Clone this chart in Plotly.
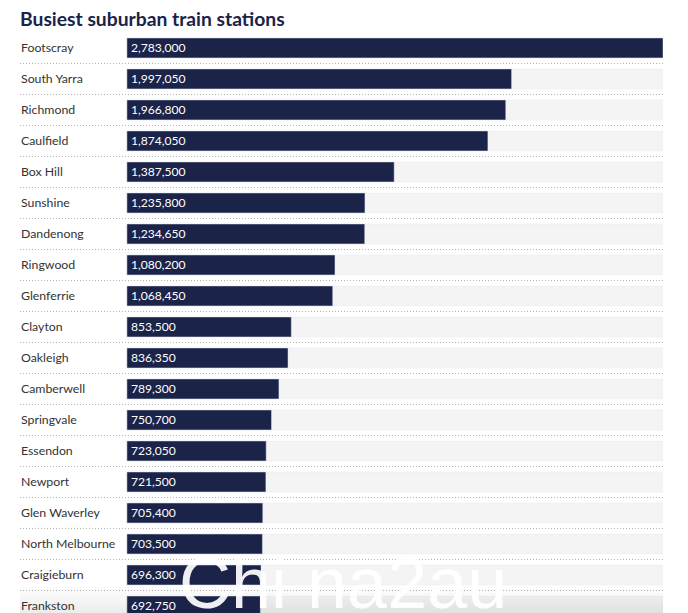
import plotly.graph_objects as go

stations = ["Footscray", "South Yarra", "Richmond", "Caulfield", "Box Hill", "Sunshine",
            "Dandenong", "Ringwood", "Glenferrie", "Clayton", "Oakleigh", "Camberwell",
            "Springvale", "Essendon", "Newport", "Glen Waverley", "North Melbourne",
            "Craigieburn", "Frankston"]
passengers = [2783000, 1997050, 1966800, 1874050, 1387500, 1235800, 1234650, 1080200,
              1068450, 853500, 836350, 789300, 750700, 723050, 721500, 705400, 703500,
              696300, 692750]
top = max(passengers)
x_start = -555000

font = "Lato"
navy = "#1b2349"

fig = go.Figure()

# grey track behind every bar
fig.add_trace(go.Bar(
    y=stations, x=[top] * len(stations), orientation="h",
    marker_color="#f4f4f4", hoverinfo="skip",
))
fig.add_trace(go.Bar(
    y=stations, x=passengers, orientation="h",
    marker_color=navy,
))

# station names and values as annotations so they can be nudged to the pixel
for station, value in zip(stations, passengers):
    fig.add_annotation(x=x_start, y=station, text=station, showarrow=False,
                       xanchor="left", xshift=-1, yshift=0,
                       font=dict(family=font, size=12.3, color="#333333"))
    fig.add_annotation(x=0, y=station, text=f"{value:,}", showarrow=False,
                       xanchor="left", xshift=2, yshift=0,
                       font=dict(family=font, size=12.1, color="white"))

# fade at the bottom of the screenshot
for i in range(9):
    fig.add_shape(type="rect", xref="paper", yref="paper", x0=0, x1=1,
                  y0=0, y1=(27 - i * 3) / 613,
                  fillcolor="rgba(80,80,80,0.012)", line_width=0, layer="above")

# watermark
fig.add_annotation(text="Chi na2au", xref="paper", yref="paper", x=0.5, y=0,
                   xanchor="center", yanchor="bottom", yshift=-12, xshift=1, showarrow=False,
                   font=dict(family="Liberation Sans", size=72, color="rgba(255,255,255,0.93)"))

fig.update_layout(
    width=688, height=613,
    margin=dict(l=20, r=25, t=34, b=0),
    paper_bgcolor="white", plot_bgcolor="white",
    barmode="overlay", bargap=0.355,
    showlegend=False,
    title=dict(text="<b>Busiest suburban train stations</b>", xref="paper", x=0, xanchor="left",
               y=1 - 19 / 613, yanchor="middle",
               font=dict(family=font, size=19.3, color=navy)),
)
fig.update_xaxes(visible=False, range=[x_start, top])
fig.update_yaxes(
    range=[18.226, -0.45], tickson="boundaries",
    showticklabels=False, ticks="",
    showgrid=True, griddash="1px,2px", gridcolor="#b4b4b4", gridwidth=1,
    showline=False, zeroline=False,
)

fig.write_html("out.html", config=dict(displayModeBar=False),
               post_script="document.body.style.margin='0'")
